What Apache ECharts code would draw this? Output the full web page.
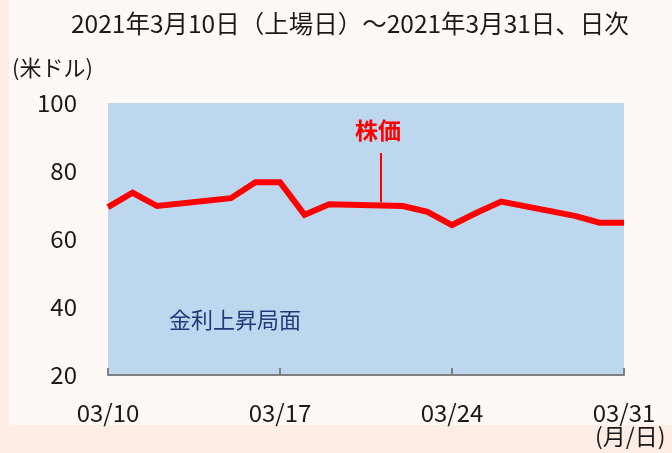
<!DOCTYPE html>
<html>
<head>
<meta charset="utf-8">
<script src="https://cdn.jsdelivr.net/npm/echarts@6/dist/echarts.min.js"></script>
<style>
  html, body { margin: 0; padding: 0; background: #fdede4; }
  #chart { width: 672px; height: 453px; }
</style>
</head>
<body>
<div id="chart"></div>
<script>
// 取引日と株価（米ドル）
var dates = ['2021-03-10', '2021-03-11', '2021-03-12', '2021-03-15', '2021-03-16', '2021-03-17',
             '2021-03-18', '2021-03-19', '2021-03-22', '2021-03-23', '2021-03-24', '2021-03-25',
             '2021-03-26', '2021-03-29', '2021-03-30', '2021-03-31'];
var prices = [69.4, 73.6, 69.7, 72.0, 76.7, 76.7, 67.1, 70.2, 69.7, 68.0, 64.1, 67.7, 71.0, 66.8, 64.8, 64.8];
var xTickLabels = ['03/10', '03/17', '03/24', '03/31'];
var yTicks = [20, 40, 60, 80, 100];

var FONT = '"Noto Sans CJK JP", "DejaVu Sans", sans-serif';
var dayMs = 24 * 3600 * 1000;
var start = Date.parse(dates[0]);

// 初日からの経過日数に変換
var seriesData = dates.map(function (d, i) {
    return [Math.round((Date.parse(d) - start) / dayMs), prices[i]];
});

var chart = echarts.init(document.getElementById('chart'));
var option = {
    backgroundColor: '#fdede4',
    animation: false,
    graphic: [
        {
            type: 'rect', left: 9, top: 0, z: -10,
            shape: { width: 663, height: 425 },
            style: { fill: '#fff9f5' }
        },
        {
            type: 'text', left: 71, top: 11,
            style: { text: '2021年3月10日（上場日）～2021年3月31日、日次', fill: '#1a1a1a', font: '24.5px ' + FONT }
        },
        {
            type: 'text', left: 12, top: 57,
            style: { text: '(米ドル)', fill: '#1a1a1a', font: '22px ' + FONT }
        },
        {
            type: 'text', left: 595, top: 425,
            style: { text: '(月/日)', fill: '#1a1a1a', font: '23px ' + FONT }
        },
        {
            type: 'text', left: 355, top: 119, z: 10,
            style: { text: '株価', fill: '#ff0000', font: 'bold 23px ' + FONT }
        },
        {
            type: 'line', z: 10,
            shape: { x1: 381, y1: 153, x2: 381, y2: 202 },
            style: { stroke: '#ff0000', lineWidth: 2 }
        },
        {
            type: 'text', left: 169, top: 309, z: 10,
            style: { text: '金利上昇局面', fill: '#1f3a7a', font: '22px ' + FONT }
        }
    ],
    grid: {
        left: 108, right: 48, top: 103, bottom: 78,
        show: true, backgroundColor: '#bdd7ee', borderWidth: 0
    },
    xAxis: {
        type: 'value', min: 0, max: 21, interval: 7,
        axisLine: { show: true, lineStyle: { color: '#808080', width: 2 } },
        axisTick: { show: true, inside: true, length: 7, lineStyle: { color: '#808080', width: 2 } },
        splitLine: { show: false },
        axisLabel: {
            margin: 26, color: '#1a1a1a', fontSize: 24, fontFamily: FONT,
            formatter: function (v) { return xTickLabels[v / 7]; }
        }
    },
    yAxis: {
        type: 'value', min: yTicks[0], max: yTicks[yTicks.length - 1], interval: 20,
        axisLine: { show: false },
        axisTick: { show: false },
        splitLine: { show: false },
        axisLabel: { margin: 31, color: '#1a1a1a', fontSize: 24, fontFamily: FONT }
    },
    series: [{
        type: 'line',
        data: seriesData,
        showSymbol: false,
        lineStyle: { color: '#ff0000', width: 6, join: 'miter' },
        clip: true
    }]
};
chart.setOption(option);
</script>
</body>
</html>
